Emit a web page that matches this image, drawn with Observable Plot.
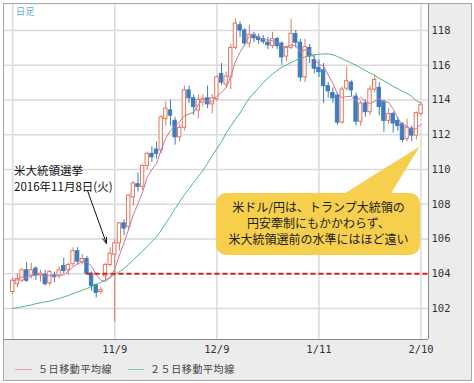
<!DOCTYPE html>
<html><head><meta charset="utf-8">
<script src="https://cdn.jsdelivr.net/npm/d3@7"></script>
<script src="https://cdn.jsdelivr.net/npm/@observablehq/plot@0.6"></script>
<style>
html,body{margin:0;padding:0;background:#fff;}
#wrap{position:relative;width:474px;height:383px;overflow:hidden;}
#outer{position:absolute;left:3px;top:3px;width:467px;height:376px;border:1px solid #a8a8a8;background:#ececec;}
#chart{position:absolute;left:0;top:0;}
.jp{position:absolute;font-family:"Noto Sans CJK JP",sans-serif;white-space:nowrap;}
.sw{position:absolute;height:1px;}
</style></head>
<body>
<div id="wrap">
  <div id="outer"></div>
  <div id="chart"></div>
  <div class="jp" style="left:16px;top:6px;font-size:9px;line-height:11px;color:#5ab0e2;letter-spacing:0.5px">日足</div>
  <div class="sw" style="left:15px;top:369px;width:17px;background:#d6a2ac"></div>
  <div class="jp" style="left:38px;top:362px;font-size:10px;line-height:14px;color:#444;letter-spacing:0.6px">５日移動平均線</div>
  <div class="sw" style="left:128px;top:369px;width:16px;background:#7ecaa9"></div>
  <div class="jp" style="left:150px;top:362px;font-size:10px;line-height:14px;color:#444;letter-spacing:0.6px">２５日移動平均線</div>
</div>
<script>
// ---- data (USD/JPY daily candles) ----
const dates = [
"10/10","10/11","10/12","10/13","10/14",
"10/17","10/18","10/19","10/20","10/21",
"10/24","10/25","10/26","10/27","10/28",
"10/31","11/1","11/2","11/3","11/4",
"11/7","11/8","11/9","11/10","11/11",
"11/14","11/15","11/16","11/17","11/18",
"11/21","11/22","11/23","11/24","11/25",
"11/28","11/29","11/30","12/1","12/2",
"12/5","12/6","12/7","12/8","12/9",
"12/12","12/13","12/14","12/15","12/16",
"12/19","12/20","12/21","12/22","12/23",
"12/27","12/28","12/29","12/30","1/2",
"1/3","1/4","1/5","1/6",
"1/9","1/10","1/11","1/12","1/13",
"1/16","1/17","1/18","1/19","1/20",
"1/23","1/24","1/25","1/26","1/27",
"1/30","1/31","2/1","2/2","2/3",
"2/6","2/7","2/8","2/9","2/10"];
const open = [102.95,103.4,103.6,104.2,103.9, 104.3,103.9,103.95,103.45,103.9,
 103.9,104.45,104.2,104.55,105.3, 104.65,104.85,104.0,103.35,102.95,
 103.85,104.5,105.1,105.75,106.9, 106.7,108.4,109.15,109.0,110.2,
 110.9,111.15,111.1,112.9,113.4, 112.8,111.85,112.4,114.55,114.1,
 113.4,113.85,114.1,113.75,114.05, 115.5,114.9,115.3,117.0,118.3,
 118.0,117.25,117.75,117.6,117.5, 117.3,117.1,117.5,117.25,116.5,
 117.0,117.8,117.3,115.3, 117.0,116.3,115.85,115.7,114.8,
 114.4,114.25,112.7,114.65,115.0, 114.2,112.75,113.8,113.3,114.6,
 114.7,113.9,112.8,113.2,112.8, 112.6,111.75,112.35,111.95,113.2];
const high = [103.75,104.0,104.3,104.65,104.6, 104.4,104.2,104.2,104.2,104.1,
 104.4,104.9,104.6,105.5,105.5, 105.1,105.0,104.1,103.4,103.2,
 104.6,105.5,105.95,106.95,107.1, 108.55,109.3,109.8,110.3,111.0,
 111.3,111.6,113.1,113.9,114.0, 113.0,112.6,114.8,114.8,114.3,
 114.3,114.3,114.8,114.3,115.4, 116.1,115.6,117.2,118.65,118.5,
 118.1,118.3,117.9,117.8,117.7, 117.6,117.9,117.6,117.35,117.1,
 118.65,118.0,117.5,117.5, 117.2,116.6,116.3,116.1,115.0,
 114.7,114.4,114.75,115.9,115.1, 114.4,113.95,114.0,114.8,115.4,
 115.0,114.0,113.5,113.3,113.0, 112.7,112.9,112.5,113.3,113.85];
const low = [102.8,103.2,103.5,103.5,103.7, 103.6,103.5,103.3,103.3,103.5,
 103.7,104.0,103.9,104.4,104.5, 104.5,103.9,103.0,102.6,102.8,
 103.6,104.4,101.2,105.3,106.2, 106.5,107.9,108.7,108.8,110.0,
 110.4,110.6,110.9,112.5,112.5, 111.4,111.6,112.2,113.8,113.1,
 112.9,113.6,113.5,113.2,113.9, 114.85,114.7,114.6,116.9,117.6,
 117.1,117.0,117.3,117.2,117.2, 116.9,116.95,116.9,116.0,116.2,
 116.9,117.0,115.05,115.0, 116.1,115.5,115.3,113.8,114.1,
 113.8,112.55,112.6,114.5,114.2, 112.5,112.5,113.0,113.1,114.4,
 113.1,112.15,112.6,112.1,112.2, 111.55,111.6,111.6,111.7,113.1];
const close = [103.6,103.7,104.2,103.6,104.2, 103.9,104.0,103.4,104.1,103.8,
 104.2,104.15,104.5,105.3,104.7, 104.85,104.0,103.3,102.9,103.05,
 104.5,105.15,105.75,106.9,106.6, 108.5,109.2,109.0,110.2,110.9,
 110.7,110.9,113.0,113.5,113.1, 111.85,112.4,114.55,114.1,113.6,
 114.0,114.05,113.75,114.1,115.3, 115.0,115.35,117.0,118.4,118.0,
 117.25,117.75,117.55,117.45,117.35, 117.15,117.5,117.1,116.45,117.0,
 117.8,117.3,115.3,117.05, 116.5,115.8,115.6,114.8,114.5,
 114.1,112.7,114.6,115.1,114.55, 112.75,113.8,113.3,114.6,115.15,
 113.6,112.8,113.2,112.65,112.5, 111.7,112.4,111.95,113.25,113.7];
const ma25 = [102.0,102.05,102.1,102.15,102.2,102.28,102.33,102.38,102.43,102.5,
 102.58,102.66,102.75,102.85,102.95,103.05,103.15,103.27,103.38,103.5,
 103.65,103.8,103.95,104.12,104.3,104.55,104.8,105.05,105.3,105.58,
 105.85,106.12,106.5,106.9,107.3,107.75,108.15,108.55,108.9,109.25,
 109.6,109.95,110.35,110.8,111.2,111.6,112.1,112.5,112.9,113.25,
 113.7,114.1,114.4,114.7,115.0,115.25,115.5,115.7,115.88,116.02,
 116.15,116.28,116.4,116.48,116.55,116.6,116.63,116.65,116.65,116.6,
 116.5,116.38,116.25,116.12,116.0,115.85,115.7,115.55,115.42,115.25,
 115.1,114.95,114.78,114.65,114.5,114.38,114.2,113.95,113.82];
const xTickLabels = ["11/9","12/9","1/11","2/10"];
const gridDates = ["10/10","11/9","12/9","1/11","2/10"];
const yTicks = [102,104,106,108,110,112,114,116,118];
const refLevel = 104;
const refStartDate = "11/1";
const electionText = ["米大統領選挙","2016年11月8日(火)"];
const calloutText = ["米ドル/円は、トランプ大統領の","円安牽制にもかかわらず、","米大統領選前の水準にはほど遠い"];

// ---- build ----
const data = dates.map((d,i)=>({i, date:d, open:open[i], high:high[i], low:low[i], close:close[i], ma25:ma25[i]}));
const idx = d => dates.indexOf(d);
const xDomain = [-1.767, 89.61];
const yDomain = [100.216, 119.496];
const upCol = "#e5765e", dnCol = "#3d7cc0", yel = "#f6d04d";
const col = d => d.close >= d.open ? upCol : dnCol;

// annotation anchors (data units)
const arrowSpec = [{x1:16.1, y1:108.8, x2:20.2, y2:105.75}];
const electionPos = [{x:0.3, y:109.9, t:electionText[0]},{x:0.3, y:108.95, t:electionText[1]}];
const box = [{x1:43.9, x2:87.9, y1:105.05, y2:108.62}];
const pointer = [{i:69.6, v:108.3},{i:87.7, v:111.32},{i:80.8, v:108.3}];
const calloutPos = calloutText.map((t,k)=>({x:65.9, y:[107.76,106.84,105.91][k], t}));

const plot = Plot.plot({
  width: 474, height: 383,
  marginLeft: 4, marginRight: 46, marginTop: 4, marginBottom: 44,
  style: {background:"transparent", fontFamily:"'DejaVu Sans Mono', monospace", fontSize:"10.5px", color:"#333", overflow:"visible"},
  x: {domain: xDomain, ticks: xTickLabels.map(idx), tickFormat: i => dates[i], tickSize: 0, tickPadding: 6, label: null},
  y: {domain: yDomain, axis: "right", ticks: yTicks, tickSize: 0, tickPadding: 3, label: null},
  marks: [
    Plot.frame({fill:"white", stroke:"none"}),
    Plot.ruleY(yTicks, {stroke:"#dadada", strokeWidth:1.5}),
    Plot.ruleX(gridDates.map(idx), {stroke:"#dadada", strokeWidth:1.5}),
    Plot.ruleX([xDomain[1]], {stroke:"#8a8a8a"}),
    Plot.ruleY([yDomain[0]], {stroke:"#8a8a8a"}),
    Plot.ruleX(data, {x:"i", y1:"low", y2:"high", stroke: col, strokeWidth:1}),
    Plot.rect(data, {x1: d=>d.i-0.36, x2: d=>d.i+0.36, y1:"open", y2:"close",
      fill: d => d.close >= d.open ? "white" : dnCol, stroke: col, strokeWidth:1}),
    Plot.lineY(data, {x:"i", y:"ma25", stroke:"#4cb87f", strokeWidth:1}),
    Plot.lineY(data, Plot.windowY({k:5, anchor:"end"}, {x:"i", y:"close", stroke:"#c878a0", strokeWidth:1})),
    Plot.ruleY([refLevel], {x1: idx(refStartDate), x2: xDomain[1], stroke:"#e01e1e", strokeWidth:2.2, strokeDasharray:"5,3"}),
    Plot.arrow(arrowSpec, {x1:"x1", y1:"y1", x2:"x2", y2:"y2", stroke:"#111", strokeWidth:1, headLength:9, headAngle:40}),
    Plot.text(electionPos, {x:"x", y:"y", text:"t", textAnchor:"start", fontSize:11.5, fontFamily:"'Noto Sans CJK JP', sans-serif", fill:"#111"}),
    Plot.line(pointer, {x:"i", y:"v", fill: yel, stroke:"none"}),
    Plot.rect(box, {x1:"x1", x2:"x2", y1:"y1", y2:"y2", fill: yel, rx: 10}),
    Plot.text(calloutPos, {x:"x", y:"y", text:"t", fontSize:12, fontFamily:"'Noto Sans CJK JP', sans-serif", fill:"#222"})
  ]
});
document.getElementById("chart").appendChild(plot);
</script>
</body></html>
